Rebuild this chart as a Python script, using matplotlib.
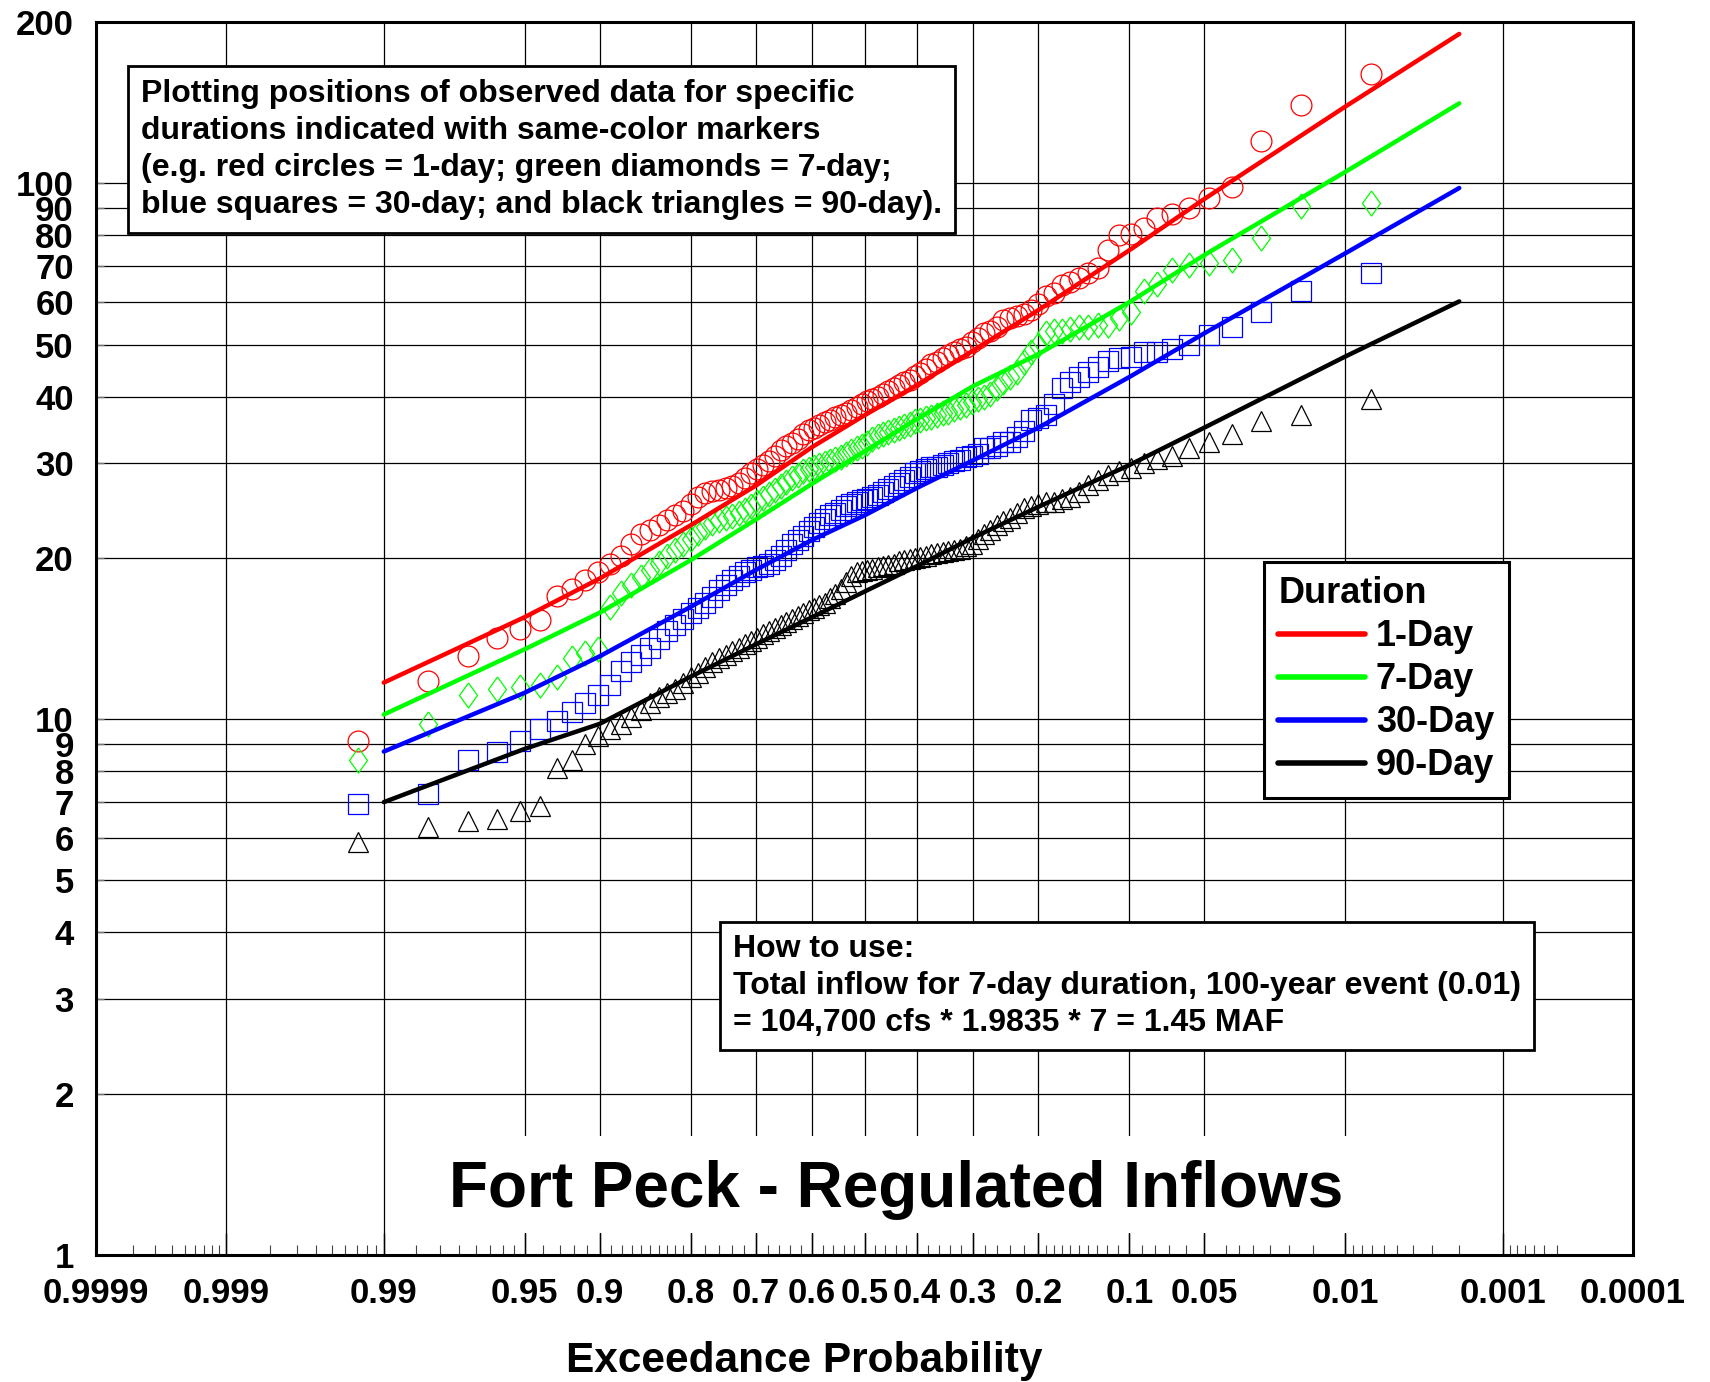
import math
import numpy as np
import matplotlib
matplotlib.use("Agg")
import matplotlib.pyplot as plt
from matplotlib.patches import Rectangle
from matplotlib.ticker import FixedLocator, FixedFormatter, NullFormatter

plt.rcParams['font.family'] = ['Liberation Sans', 'DejaVu Sans']
plt.rcParams['font.weight'] = 'bold'

# ---- data ----
series_names = ["1-Day", "7-Day", "30-Day", "90-Day"]
series_colors = ["#ff0000", "#00ff00", "#0000ff", "#000000"]
# narrow diamond like the original (taller than wide)
narrow_diamond = [(0, 1), (0.72, 0), (0, -1), (-0.72, 0), (0, 1)]
series_markers = ["o", narrow_diamond, "s", "^"]
series_msize = [15, 18, 15, 15]

# observed inflows (1000 cfs), largest first (rank 1 .. 98)
obs_1day = [160, 140, 120, 98.5, 94, 90, 87.5, 86, 82.5, 80.5,
            80, 75, 69.5, 68, 66.5, 65.5, 64.5, 62.5, 61.5, 59.5,
            58, 57, 56.5, 56, 55.5, 54, 53, 52.5, 51.5, 50.5,
            49.5, 49, 48.5, 47.8, 47.2, 46.5, 46, 45, 44.3, 43.6,
            43, 42.5, 42, 41.5, 41, 40.5, 40, 39.5, 39.2, 38.8,
            38.3, 37.8, 37.3, 37, 36.7, 36.2, 35.8, 35.4, 35, 34.6,
            34, 33.3, 32.8, 32.3, 31.8, 31, 30.3, 29.8, 29.3, 28.8,
            28.2, 27.6, 27.2, 27, 26.8, 26.6, 26.4, 26, 25.2, 24.5,
            24, 23.5, 23, 22.5, 22.2, 21.2, 20.2, 19.5, 18.8, 18.2,
            17.5, 17.0, 15.3, 14.7, 14.2, 13.1, 11.8, 9.1]
obs_7day = [91.8, 90.8, 79, 72, 71, 70.5, 69, 65, 63, 57.5,
            56, 54.5, 54.5, 54, 54, 53.5, 53, 53, 52.5, 50,
            48.5, 46.5, 44.5, 43.5, 42.5, 41.5, 40.5, 40, 39.6, 39,
            38.6, 38.2, 37.9, 37.5, 37.2, 36.9, 36.6, 36.4, 36.2, 36,
            35.6, 35.3, 35, 34.7, 34.4, 34.1, 33.7, 33.3, 32.7, 32.3,
            32, 31.6, 31.2, 30.9, 30.6, 30.3, 30, 29.8, 29.6, 29.3,
            29, 28.6, 28.2, 27.7, 27.2, 26.8, 26.3, 25.9, 25.4, 25,
            24.6, 24.2, 23.9, 23.7, 23.5, 23.2, 22.8, 22.3, 21.7, 21.2,
            20.7, 20.2, 19.6, 19, 18.4, 17.8, 17.2, 16.2, 13.5, 13.3,
            13.0, 12.0, 11.6, 11.5, 11.4, 11.1, 9.8, 8.4]
obs_30day = [68, 63, 57.5, 54, 52, 50, 49, 48.5, 48.5, 47.5,
             47.3, 46.6, 45.5, 44.5, 43.5, 42.5, 41.5, 38.7, 37, 36.5,
             36.1, 34.5, 33.6, 32.9, 32.9, 32.4, 32.1, 32, 31.3, 31,
             30.8, 30.5, 30.3, 30, 29.8, 29.6, 29.5, 29.3, 29.1, 28.8,
             28.3, 28, 27.6, 27.2, 26.9, 26.5, 26.2, 26, 25.8, 25.6,
             25.4, 25.2, 25, 24.6, 24.3, 24, 23.6, 23.2, 22.8, 22.4,
             22, 21.6, 21.2, 20.7, 20.2, 19.8, 19.5, 19.3, 19.2, 19,
             18.8, 18.5, 18.2, 17.8, 17.4, 16.9, 16.5, 16.1, 15.8, 15.4,
             15, 14.6, 14.1, 13.6, 13.2, 12.8, 12.3, 11.6, 11.1, 10.7,
             10.3, 9.9, 9.6, 9.1, 8.7, 8.4, 7.25, 6.95]
obs_90day = [39.5, 37, 36, 34, 32.9, 32, 31, 30.6, 30, 29.4,
             29, 28.5, 28, 27.3, 26.5, 26, 25.7, 25.4, 25.4, 25.2,
             25, 24.8, 24.3, 23.7, 23.4, 23, 22.5, 22.2, 21.7, 21.2,
             21, 20.8, 20.7, 20.6, 20.5, 20.4, 20.3, 20.2, 20.1, 20,
             19.9, 19.8, 19.7, 19.5, 19.4, 19.3, 19.2, 19.1, 19, 18.9,
             18.8, 18.5, 18, 17.5, 17.1, 16.8, 16.5, 16.3, 16.1, 16,
             15.8, 15.6, 15.4, 15.2, 15, 14.8, 14.6, 14.4, 14.2, 14,
             13.8, 13.6, 13.4, 13.2, 13, 12.8, 12.5, 12.2, 12, 11.7,
             11.4, 11.2, 11, 10.7, 10.4, 10.1, 9.8, 9.6, 9.3, 9.0,
             8.4, 8.1, 6.9, 6.75, 6.5, 6.45, 6.3, 5.9]
observed = [obs_1day, obs_7day, obs_30day, obs_90day]

# fitted frequency curves
curve_prob = [0.99, 0.95, 0.9, 0.8, 0.7, 0.6, 0.5, 0.4, 0.3, 0.2, 0.1, 0.05, 0.01, 0.002]
curve_1day = [11.7, 15.5, 18.3, 23.0, 27.3, 32.2, 36.9, 42.0, 48.7, 58, 75, 93.5, 139, 190]
curve_7day = [10.2, 13.5, 15.8, 19.8, 23.6, 27.5, 31.6, 36.3, 41.8, 48, 60, 73.5, 105, 141]
curve_30day = [8.7, 11.2, 13.1, 16.2, 19, 21.6, 24.0, 27.0, 30.4, 35, 43.5, 52.5, 74, 98]
curve_90day = [7.0, 8.8, 9.8, 12.0, 13.8, 15.5, 17.3, 19.3, 21.8, 24.9, 29.8, 35, 47.5, 60.2]
curves = [curve_1day, curve_7day, curve_30day, curve_90day]

prob_major = [0.9999, 0.999, 0.99, 0.95, 0.9, 0.8, 0.7, 0.6, 0.5, 0.4, 0.3, 0.2,
              0.1, 0.05, 0.01, 0.001, 0.0001]
prob_labels = ["0.9999", "0.999", "0.99", "0.95", "0.9", "0.8", "0.7", "0.6", "0.5",
               "0.4", "0.3", "0.2", "0.1", "0.05", "0.01", "0.001", "0.0001"]
prob_minor = ([0.9998, 0.9997, 0.9996, 0.9995, 0.9994, 0.9993, 0.9992, 0.9991]
              + [0.998, 0.997, 0.996, 0.995, 0.994, 0.993, 0.992, 0.991]
              + [0.985, 0.98, 0.975, 0.97, 0.965, 0.96, 0.955]
              + [0.94, 0.93, 0.92, 0.91]
              + [0.89, 0.88, 0.87, 0.86, 0.85, 0.84, 0.83, 0.82, 0.81]
              + [0.78, 0.76, 0.74, 0.72, 0.68, 0.66, 0.64, 0.62,
                 0.58, 0.56, 0.54, 0.52, 0.48, 0.46, 0.44, 0.42,
                 0.38, 0.36, 0.34, 0.32, 0.28, 0.26, 0.24, 0.22]
              + [0.19, 0.18, 0.17, 0.16, 0.15, 0.14, 0.13, 0.12, 0.11]
              + [0.09, 0.08, 0.07, 0.06]
              + [0.04, 0.035, 0.03, 0.025, 0.02, 0.015]
              + [0.009, 0.008, 0.007, 0.006, 0.005, 0.004, 0.003, 0.002]
              + [0.0009, 0.0008, 0.0007, 0.0006, 0.0005, 0.0004])
y_ticks = [1, 2, 3, 4, 5, 6, 7, 8, 9, 10, 20, 30, 40, 50, 60, 70, 80, 90, 100, 200]

note_top = ("Plotting positions of observed data for specific\n"
            "durations indicated with same-color markers\n"
            "(e.g. red circles = 1-day; green diamonds = 7-day;\n"
            "blue squares = 30-day; and black triangles = 90-day).")
note_use = ("How to use:\n"
            "Total inflow for 7-day duration, 100-year event (0.01)\n"
            "= 104,700 cfs * 1.9835 * 7 = 1.45 MAF")


# ---- normal probability scale (Acklam approximation of the inverse normal) ----
def norm_ppf(q):
    q = np.atleast_1d(np.asarray(q, dtype=float))
    q = np.clip(q, 1e-12, 1 - 1e-12)
    a = [-3.969683028665376e+01, 2.209460984245205e+02, -2.759285104469687e+02,
         1.383577518672690e+02, -3.066479806614716e+01, 2.506628277459239e+00]
    b = [-5.447609879822406e+01, 1.615858368580409e+02, -1.556989798598866e+02,
         6.680131188771972e+01, -1.328068155288572e+01]
    c = [-7.784894002430293e-03, -3.223964580411365e-01, -2.400758277161838e+00,
         -2.549732539343734e+00, 4.374664141464968e+00, 2.938163982698783e+00]
    d = [7.784695709041462e-03, 3.224671290700398e-01, 2.445134137142996e+00,
         3.754408661907416e+00]
    plow = 0.02425
    z = np.empty_like(q)
    lo = q < plow
    hi = q > 1 - plow
    mid = ~(lo | hi)
    r = np.sqrt(-2 * np.log(q[lo]))
    z[lo] = ((((((c[0]*r + c[1])*r + c[2])*r + c[3])*r + c[4])*r + c[5])
             / ((((d[0]*r + d[1])*r + d[2])*r + d[3])*r + 1))
    r = np.sqrt(-2 * np.log(1 - q[hi]))
    z[hi] = -((((((c[0]*r + c[1])*r + c[2])*r + c[3])*r + c[4])*r + c[5])
              / ((((d[0]*r + d[1])*r + d[2])*r + d[3])*r + 1))
    s = q[mid] - 0.5
    r = s * s
    z[mid] = ((((((a[0]*r + a[1])*r + a[2])*r + a[3])*r + a[4])*r + a[5]) * s
              / (((((b[0]*r + b[1])*r + b[2])*r + b[3])*r + b[4])*r + 1))
    return z


_erfc = np.vectorize(math.erfc)


def exc_forward(p):
    return norm_ppf(1 - np.asarray(p, dtype=float))


def exc_inverse(z):
    return 0.5 * _erfc(np.asarray(z, dtype=float) / math.sqrt(2))


# ---- figure ----
fig = plt.figure(figsize=(17.1, 13.82), dpi=100)
ax = fig.add_axes([96 / 1710, 1 - 1255 / 1382, (1633 - 96) / 1710, (1255 - 22) / 1382])
ax.set_xscale('function', functions=(exc_forward, exc_inverse))
ax.set_yscale('log')
ax.set_xlim(0.0001, 0.9999)
ax.set_ylim(1, 200)

n = len(obs_1day)
plot_pos = (np.arange(1, n + 1) - 0.3) / (n + 0.4)   # median-rank plotting positions

handles = []
for vals, curve, name, col, mk, ms in zip(observed, curves, series_names,
                                          series_colors, series_markers, series_msize):
    ax.plot(plot_pos, vals, linestyle='none', marker=mk, markersize=ms,
            markerfacecolor='none', markeredgecolor=col, markeredgewidth=0.9,
            zorder=3)
    ln, = ax.plot(curve_prob, curve, color=col, lw=3.2, label=name, zorder=4,
                  solid_capstyle='round')
    handles.append(ln)

ax.xaxis.set_major_locator(FixedLocator(prob_major))
ax.xaxis.set_major_formatter(FixedFormatter(prob_labels))
ax.xaxis.set_minor_locator(FixedLocator(prob_minor))
ax.xaxis.set_minor_formatter(NullFormatter())
ax.yaxis.set_major_locator(FixedLocator(y_ticks))
ax.yaxis.set_major_formatter(FixedFormatter([str(v) for v in y_ticks]))
ax.yaxis.set_minor_locator(FixedLocator([]))

ax.grid(True, which='major', color='black', lw=0.9)
ax.set_axisbelow(True)
ax.tick_params(axis='x', which='major', direction='in', length=16, width=1,
               pad=16, labelsize=25)
ax.tick_params(axis='x', which='minor', direction='in', length=7, width=0.8,
               color='#444444')
ax.tick_params(axis='y', which='major', direction='in', length=6, width=1,
               pad=16, labelsize=25, color='#777777')
for sp in ax.spines.values():
    sp.set_linewidth(2.2)

# white area behind the chart title (hides the vertical grid there)
ax.add_patch(Rectangle((0.00476, 1.10), 0.98 - 0.00476, 1.667 - 1.10,
                       facecolor='white', edgecolor='none', zorder=1))
fig.text(896 / 1710, 1 - 1190 / 1382, "Fort Peck - Regulated Inflows",
         ha='center', va='center', fontsize=46, fontweight='bold')

fig.text(804 / 1710, 1 - 1361 / 1382, "Exceedance Probability",
         ha='center', va='center', fontsize=30.5, fontweight='bold')

box = dict(boxstyle='square,pad=0.4', facecolor='white', edgecolor='black', lw=2)
fig.text(141 / 1710, 1 - 149.5 / 1382, note_top, ha='left', va='center',
         fontsize=23, fontweight='bold', linespacing=1.31, bbox=box, zorder=6)
fig.text(733 / 1710, 1 - 986 / 1382, note_use, ha='left', va='center',
         fontsize=23, fontweight='bold', linespacing=1.29, bbox=box, zorder=6)

leg = ax.legend(handles=handles, title="Duration", loc='upper left',
                bbox_to_anchor=(1264 / 1710, 1 - 562 / 1382),
                bbox_transform=fig.transFigure, borderaxespad=0,
                fontsize=26, title_fontproperties={'size': 26, 'weight': 'bold'},
                handlelength=2.4, handletextpad=0.3, labelspacing=0.22,
                borderpad=0.4, fancybox=False, framealpha=1,
                edgecolor='black', alignment='left')
leg.get_frame().set_linewidth(2.2)
for lh in leg.get_lines():
    lh.set_linewidth(4)

fig.savefig("out.png", dpi=100)
